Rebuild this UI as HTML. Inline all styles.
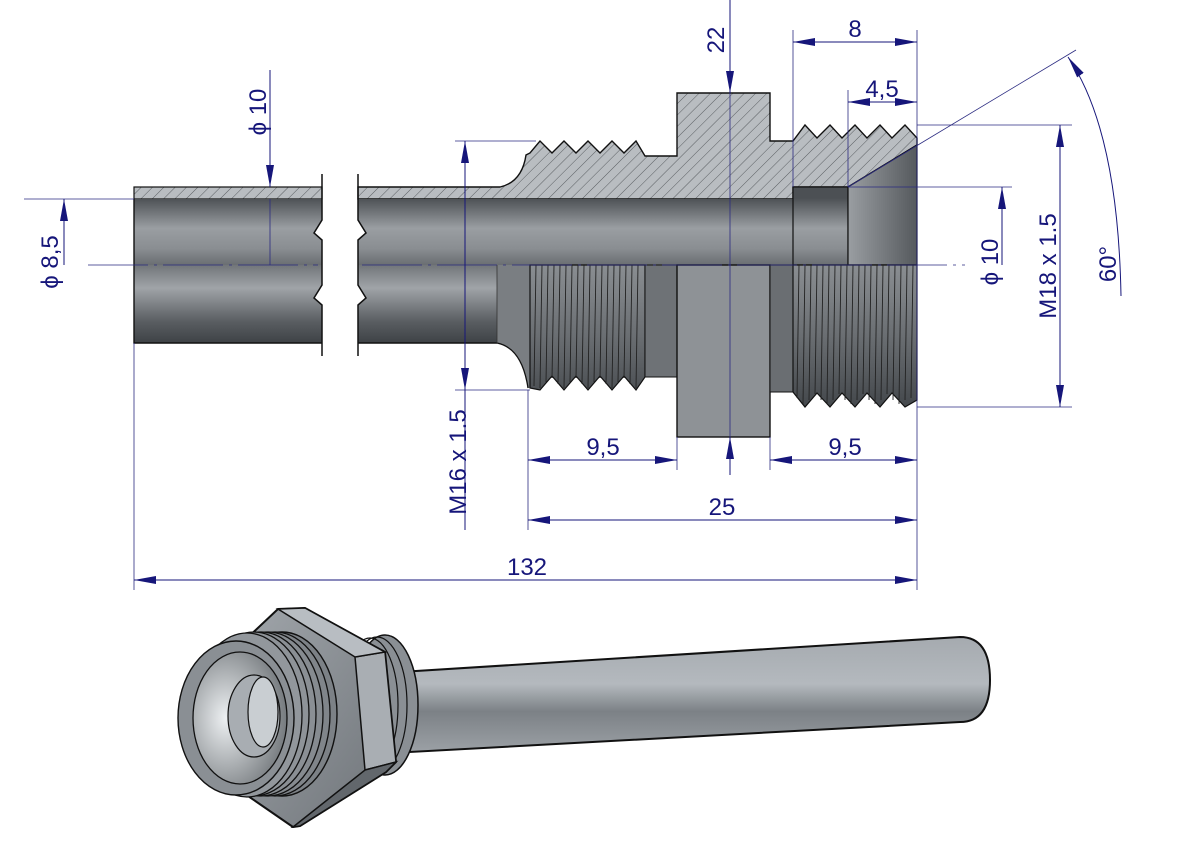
<!DOCTYPE html>
<html><head><meta charset="utf-8"><style>
html,body{margin:0;padding:0;background:#fff}
svg{display:block}
text{font-family:"Liberation Sans",sans-serif;fill:#16167a;font-size:24px}
</style></head><body>
<svg width="1191" height="842" viewBox="0 0 1191 842" xmlns="http://www.w3.org/2000/svg">
<defs>
<pattern id="h" width="8" height="8" patternUnits="userSpaceOnUse" patternTransform="rotate(45)">
<rect width="8" height="8" fill="#b9bdc1"/><line x1="0" y1="0" x2="0" y2="8" stroke="#5a5e62" stroke-width="1"/>
</pattern>
<linearGradient id="bore" x1="0" y1="198" x2="0" y2="265" gradientUnits="userSpaceOnUse">
<stop offset="0" stop-color="#4c5054"/><stop offset="0.45" stop-color="#9a9ea2"/><stop offset="0.75" stop-color="#8a8e92"/><stop offset="1" stop-color="#6a6e72"/></linearGradient>
<linearGradient id="tube" x1="0" y1="198" x2="0" y2="343" gradientUnits="userSpaceOnUse">
<stop offset="0" stop-color="#4a4e52"/><stop offset="0.25" stop-color="#9ea2a6"/><stop offset="0.45" stop-color="#6e7276"/><stop offset="0.62" stop-color="#a0a4a8"/><stop offset="0.85" stop-color="#5a5e62"/><stop offset="1" stop-color="#3e4246"/></linearGradient>
<linearGradient id="thr" x1="0" y1="265" x2="0" y2="407" gradientUnits="userSpaceOnUse">
<stop offset="0" stop-color="#8a8e92"/><stop offset="0.5" stop-color="#6a6e72"/><stop offset="1" stop-color="#44484c"/></linearGradient>
<linearGradient id="cone" x1="848" y1="0" x2="917" y2="0" gradientUnits="userSpaceOnUse">
<stop offset="0" stop-color="#9a9ea2"/><stop offset="1" stop-color="#55595d"/></linearGradient>
<linearGradient id="t3" x1="0" y1="640" x2="0" y2="750" gradientUnits="userSpaceOnUse">
<stop offset="0" stop-color="#a6abb0"/><stop offset="0.4" stop-color="#b4b9be"/><stop offset="0.65" stop-color="#7c8186"/><stop offset="1" stop-color="#9a9fa4"/></linearGradient>
<linearGradient id="hexg" x1="0" y1="0" x2="1" y2="1">
<stop offset="0" stop-color="#a0a5aa"/><stop offset="1" stop-color="#6e7378"/></linearGradient>
<radialGradient id="boreg" cx="0.35" cy="0.5" r="0.7"><stop offset="0" stop-color="#eef1f3"/><stop offset="1" stop-color="#6c7175"/></radialGradient>
<marker id="a" markerWidth="22" markerHeight="10" refX="22" refY="5" orient="auto-start-reverse" markerUnits="userSpaceOnUse"><path d="M0,1 L22,5 L0,9 Z" fill="#16167a"/></marker>
</defs>

<!-- ===== Upper hatched section ===== -->
<rect x="134" y="187" width="188" height="12" fill="url(#h)" stroke="#111" stroke-width="1.2"/>
<path d="M358,187 L500,187 Q522,182 526,155 L530,153 L540,141 L552,153 L564,141 L576,153 L588,141 L600,153 L612,141 L624,153 L636,141 L645,156 L677,156 L677,93 L770,93 L770,141 L793,141 L805,125 L817,138 L830,125 L842,138 L855,125 L867,138 L880,125 L892,138 L905,125 L917,138 L917,145 L848,187 L793,187 L793,199 L358,199 Z" fill="url(#h)" stroke="#111" stroke-width="1.4"/>

<!-- bore upper -->
<rect x="134" y="199" width="188" height="66" fill="url(#bore)"/>
<rect x="358" y="199" width="435" height="66" fill="url(#bore)"/>
<rect x="793" y="187" width="55" height="78" fill="url(#bore)" stroke="#111" stroke-width="1.2"/>
<path d="M848,187 L917,145 L917,265 L848,265 Z" fill="url(#cone)" stroke="#111" stroke-width="1.2"/>

<!-- lower half -->
<rect x="134" y="265" width="188" height="78" fill="url(#tube)"/>
<path d="M134,199 L134,343 L322,343" fill="none" stroke="#111" stroke-width="1.4"/>
<path d="M358,265 L497,265 L497,343 L358,343 Z" fill="url(#tube)"/>
<path d="M358,343 L497,343" stroke="#111" stroke-width="1.4"/>
<path d="M497,265 L530,265 L530,388 L528,388 Q522,348 497,343 Z" fill="#7a7e82"/>
<path d="M497,343 Q522,348 528,388" fill="none" stroke="#111" stroke-width="1.3"/>
<line x1="497" y1="265" x2="497" y2="343" stroke="#333" stroke-width="0.8"/>
<!-- lower left thread -->
<path d="M530,265 L645,265 L645,377 L636,390 L624,376 L612,390 L600,376 L588,390 L576,376 L564,390 L552,376 L540,390 L530,388 Z" fill="url(#thr)" stroke="#111" stroke-width="1.2"/>
<g stroke="#222" stroke-width="0.9">
<line x1="536" y1="265" x2="534" y2="386"/><line x1="542" y1="265" x2="540" y2="388"/><line x1="548" y1="265" x2="546" y2="382"/><line x1="554" y1="265" x2="552" y2="378"/><line x1="560" y1="265" x2="558" y2="384"/><line x1="566" y1="265" x2="564" y2="388"/><line x1="572" y1="265" x2="570" y2="382"/><line x1="578" y1="265" x2="576" y2="378"/><line x1="584" y1="265" x2="582" y2="384"/><line x1="590" y1="265" x2="588" y2="388"/><line x1="596" y1="265" x2="594" y2="382"/><line x1="602" y1="265" x2="600" y2="378"/><line x1="608" y1="265" x2="606" y2="384"/><line x1="614" y1="265" x2="612" y2="388"/><line x1="620" y1="265" x2="618" y2="382"/><line x1="626" y1="265" x2="624" y2="378"/><line x1="632" y1="265" x2="630" y2="384"/><line x1="638" y1="265" x2="636" y2="388"/>
</g>
<rect x="645" y="265" width="32" height="112" fill="#6e7276" stroke="#111" stroke-width="1"/>
<rect x="677" y="265" width="93" height="172" fill="#8e9296" stroke="#111" stroke-width="1.4"/>
<rect x="770" y="265" width="23" height="127" fill="#6a6e72" stroke="#111" stroke-width="1"/>
<!-- lower right thread -->
<path d="M793,265 L917,265 L917,400 L905,407 L892,393 L880,407 L867,393 L855,407 L842,393 L830,407 L817,393 L805,407 L793,392 Z" fill="url(#thr)" stroke="#111" stroke-width="1.2"/>
<g stroke="#222" stroke-width="0.9">
<line x1="799" y1="265" x2="797" y2="398"/><line x1="805" y1="265" x2="803" y2="404"/><line x1="811" y1="265" x2="809" y2="400"/><line x1="817" y1="265" x2="815" y2="394"/><line x1="823" y1="265" x2="821" y2="400"/><line x1="829" y1="265" x2="827" y2="404"/><line x1="835" y1="265" x2="833" y2="400"/><line x1="841" y1="265" x2="839" y2="394"/><line x1="847" y1="265" x2="845" y2="400"/><line x1="853" y1="265" x2="851" y2="404"/><line x1="859" y1="265" x2="857" y2="400"/><line x1="865" y1="265" x2="863" y2="394"/><line x1="871" y1="265" x2="869" y2="400"/><line x1="877" y1="265" x2="875" y2="404"/><line x1="883" y1="265" x2="881" y2="400"/><line x1="889" y1="265" x2="887" y2="394"/><line x1="895" y1="265" x2="893" y2="400"/><line x1="901" y1="265" x2="899" y2="404"/><line x1="907" y1="265" x2="905" y2="400"/><line x1="913" y1="265" x2="911" y2="398"/>
</g>

<!-- break lines -->
<rect x="323" y="170" width="34" height="190" fill="#fff"/>
<path d="M322,220 L314,233 L322,240 Z M322,285 L314,298 L322,305 Z" fill="#fff"/>
<path d="M358,220 L366,233 L358,240 Z M358,285 L366,298 L358,305 Z" fill="#fff"/>
<path d="M322,174 L322,220 L314,233 L322,240 L322,285 L314,298 L322,305 L322,356" fill="none" stroke="#111" stroke-width="1.5"/>
<path d="M358,174 L358,220 L366,233 L358,240 L358,285 L366,298 L358,305 L358,356" fill="none" stroke="#111" stroke-width="1.5"/>

<!-- ===== dimensions ===== -->
<g stroke="#2a2a80" stroke-width="0.8" fill="none">
<line x1="88" y1="265" x2="318" y2="265" stroke-dasharray="60,6,3,6"/>
<line x1="362" y1="265" x2="965" y2="265" stroke-dasharray="60,6,3,6"/>
<line x1="134" y1="343" x2="134" y2="590"/>
<line x1="917" y1="138" x2="917" y2="590"/>
<line x1="528" y1="390" x2="528" y2="530"/>
<line x1="677" y1="437" x2="677" y2="470"/>
<line x1="770" y1="437" x2="770" y2="470"/>
<line x1="793" y1="30" x2="793" y2="187"/>
<line x1="848" y1="90" x2="848" y2="187"/>
<line x1="917" y1="30" x2="917" y2="138"/>
<line x1="730" y1="93" x2="730" y2="437"/>
<line x1="270" y1="199" x2="270" y2="265"/>
<line x1="24" y1="199" x2="134" y2="199"/>
<line x1="455" y1="141" x2="536" y2="141"/>
<line x1="455" y1="390" x2="530" y2="390"/>
<line x1="917" y1="125" x2="1072" y2="125"/>
<line x1="917" y1="407" x2="1072" y2="407"/>
<line x1="848" y1="187" x2="1012" y2="187"/>
<line x1="848" y1="187" x2="1076" y2="50"/>
</g>
<g stroke="#16167a" stroke-width="1" fill="none">
<line x1="134" y1="580" x2="917" y2="580" marker-start="url(#a)" marker-end="url(#a)"/>
<line x1="528" y1="520" x2="917" y2="520" marker-start="url(#a)" marker-end="url(#a)"/>
<line x1="528" y1="460" x2="677" y2="460" marker-start="url(#a)" marker-end="url(#a)"/>
<line x1="770" y1="460" x2="917" y2="460" marker-start="url(#a)" marker-end="url(#a)"/>
<line x1="793" y1="42" x2="917" y2="42" marker-start="url(#a)" marker-end="url(#a)"/>
<line x1="848" y1="102" x2="917" y2="102" marker-start="url(#a)" marker-end="url(#a)"/>
<line x1="730" y1="0" x2="730" y2="93" marker-end="url(#a)"/>
<line x1="730" y1="475" x2="730" y2="437" marker-end="url(#a)"/>
<line x1="270" y1="70" x2="270" y2="187" marker-end="url(#a)"/>
<line x1="64" y1="265" x2="64" y2="199" marker-end="url(#a)"/>
<line x1="465" y1="530" x2="465" y2="141" marker-end="url(#a)"/>
<line x1="465" y1="141" x2="465" y2="390" marker-end="url(#a)"/>
<line x1="1060" y1="125" x2="1060" y2="407" marker-start="url(#a)" marker-end="url(#a)"/>
<line x1="1002" y1="265" x2="1002" y2="187" marker-end="url(#a)"/>
<path d="M1121,296 Q1118,130 1068,57" marker-end="url(#a)"/>
</g>
<text x="527" y="575" text-anchor="middle">132</text>
<text x="722" y="515" text-anchor="middle">25</text>
<text x="603" y="455" text-anchor="middle">9,5</text>
<text x="845" y="455" text-anchor="middle">9,5</text>
<text x="855" y="37" text-anchor="middle">8</text>
<text x="882" y="97" text-anchor="middle">4,5</text>
<text transform="translate(724,40) rotate(-90)" text-anchor="middle">22</text>
<text transform="translate(266,112) rotate(-90)" text-anchor="middle">ϕ 10</text>
<text transform="translate(58,262) rotate(-90)" text-anchor="middle">ϕ 8,5</text>
<text transform="translate(466,462) rotate(-90)" text-anchor="middle">M16 x 1.5</text>
<text transform="translate(998,262) rotate(-90)" text-anchor="middle">ϕ 10</text>
<text transform="translate(1056,266) rotate(-90)" text-anchor="middle">M18 x 1.5</text>
<text transform="translate(1116,264) rotate(-90)" text-anchor="middle">60°</text>

<!-- ===== 3D view ===== -->
<path d="M400,672 L960,637 Q990,637 990,680 Q990,722 960,722 L410,752 Z" fill="url(#t3)" stroke="#111" stroke-width="2"/>
<ellipse cx="385" cy="705" rx="33" ry="70" fill="#8a8f94" stroke="#111" stroke-width="1.5"/>
<ellipse cx="377" cy="705" rx="30" ry="68" fill="none" stroke="#111" stroke-width="1.2"/>
<ellipse cx="370" cy="705" rx="28" ry="67" fill="none" stroke="#111" stroke-width="1.2"/>
<!-- hex -->
<path d="M243,642 L278,609 L305,608 L385,652 L396,762 L386,772 L300,826 L293,827 L248,796 Z" fill="url(#hexg)" stroke="#111" stroke-width="2" stroke-linejoin="round"/>
<path d="M355,657 L385,652 L396,762 L365,770 Z" fill="#a9aeb3" stroke="#111" stroke-width="1.5"/>
<path d="M278,609 L305,608 L385,652 L355,657 Z" fill="#b8bdc2" stroke="#111" stroke-width="1.5"/>
<path d="M365,770 L396,762 L386,772 L300,826 L293,827 Z" fill="#62676c" stroke="#111" stroke-width="1.5"/>
<!-- front threads -->
<ellipse cx="282" cy="714" rx="55" ry="82" fill="#7c8186" stroke="#111" stroke-width="1.4"/>
<ellipse cx="275" cy="714" rx="55" ry="82" fill="#80858a" stroke="#111" stroke-width="1.3"/>
<ellipse cx="268" cy="714" rx="55" ry="82" fill="#868b90" stroke="#111" stroke-width="1.3"/>
<ellipse cx="261" cy="714" rx="55" ry="82" fill="#8a8f94" stroke="#111" stroke-width="1.3"/>
<ellipse cx="254" cy="714" rx="55" ry="82" fill="#8e9398" stroke="#111" stroke-width="1.3"/>
<ellipse cx="247" cy="715" rx="55" ry="82" fill="#92979c" stroke="#111" stroke-width="1.3"/>
<ellipse cx="236" cy="718" rx="58" ry="77" fill="#8a8f94" stroke="#111" stroke-width="1.4"/>
<ellipse cx="240" cy="718" rx="47" ry="66" fill="url(#boreg)" stroke="#111" stroke-width="1.3"/>
<ellipse cx="254" cy="716" rx="26" ry="41" fill="#a8adb2" stroke="#111" stroke-width="1.2"/>
<ellipse cx="263" cy="712" rx="15" ry="35" fill="#c9ced2" stroke="#111" stroke-width="1.2"/>
</svg>
</body></html>
